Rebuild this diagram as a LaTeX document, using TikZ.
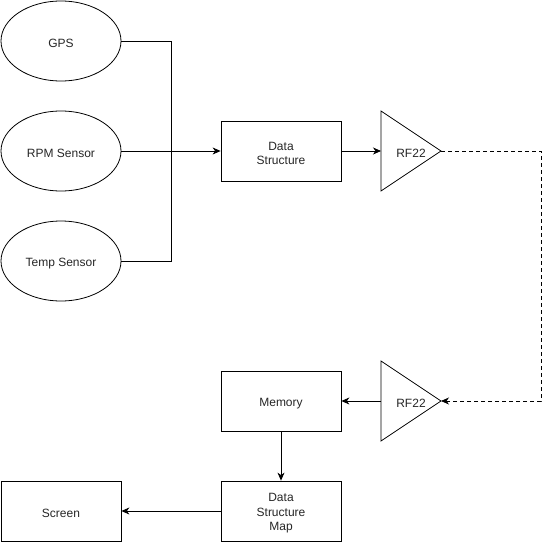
\documentclass[tikz,border=0pt]{standalone}
\usepackage{fontspec}
\setmainfont{Liberation Sans}
\usetikzlibrary{arrows.meta,shapes.geometric}
\begin{document}
\begin{tikzpicture}[x=1pt,y=-1pt,
  every node/.style={font=\fontsize{12}{14.5}\selectfont, text=black!85},
  txt/.style={label={[align=center, yshift=-2.5pt]center:#1}},
  ell/.style={draw, ellipse, minimum width=120pt, minimum height=80pt, inner sep=0pt, line width=0.8pt, txt=#1},
  box/.style={draw, rectangle, minimum width=120pt, minimum height=60pt, inner sep=0pt, line width=0.8pt, txt=#1},
  conn/.style={draw, line width=0.8pt},
  arr/.style={conn, -{Stealth[length=8pt,width=7pt,inset=2.5pt]}},
  tri/.style={draw, line width=0.8pt, line join=miter}]
\useasboundingbox (0,0) rectangle (551,543);
% sensors
\node[ell=GPS] (gps) at (61,41) {};
\node[ell=RPM Sensor] (rpm) at (61,151) {};
\node[ell=Temp Sensor] (temp) at (61,261) {};
% boxes
\node[box={Data\\Structure}] (ds) at (281,151) {};
\node[box=Memory] (mem) at (281,401) {};
\node[box={Data\\Structure\\Map}] (dsm) at (281,511) {};
\node[box=Screen] (screen) at (61,511) {};
% RF22 triangles
\coordinate (rf1base) at (381,151);
\coordinate (rf1tip) at (441,151);
\coordinate (rf2base) at (381,401);
\coordinate (rf2tip) at (441,401);
\draw[tri] (381,111) -- (rf1tip) -- (381,191) -- cycle;
\draw[tri] (381,361) -- (rf2tip) -- (381,441) -- cycle;
\node[yshift=-2.5pt] (rf1) at (411,151) {RF22};
\node[yshift=-2.5pt] (rf2) at (411,401) {RF22};
\coordinate (bus) at (171,151);
\coordinate (c1) at (541,151);
\coordinate (c2) at (541,401);
% connectors
\draw[conn] (gps.east) -| (bus);
\draw[conn] (temp.east) -| (bus);
\draw[arr] (rpm.east) -- (ds.west);
\draw[arr] (ds.east) -- (rf1base);
\draw[arr, dash pattern=on 4pt off 3pt] (rf1tip) -- (c1) -- (c2) -- (rf2tip);
\draw[arr] (rf2base) -- (mem.east);
\draw[arr] (mem.south) -- (dsm.north);
\draw[arr] (dsm.west) -- (screen.east);
\end{tikzpicture}
\end{document}
